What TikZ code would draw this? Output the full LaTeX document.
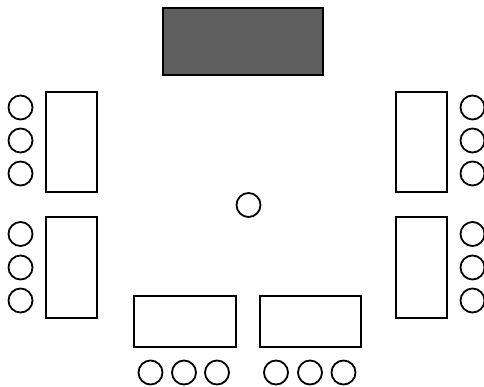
\documentclass[tikz,border=0pt]{standalone}
\usepackage{tikz}
\definecolor{boardgray}{HTML}{5F5F5F}
\tikzset{
  desk/.style={draw=black,line width=1.8pt,fill=white},
  board/.style={draw=black,line width=1.8pt,fill=boardgray},
  seat/.style={draw=black,line width=1.8pt,fill=white}
}
\begin{document}
\begin{tikzpicture}[x=1pt,y=-1pt]
\useasboundingbox (0,0) rectangle (484,387);
\draw[board] (163,8) rectangle (323,75);
\draw[desk] (46,92) rectangle (97,192);
\draw[desk] (46,217) rectangle (97,318);
\draw[desk] (396,92) rectangle (447,192);
\draw[desk] (396,217) rectangle (447,318);
\draw[desk] (134,296) rectangle (236,347);
\draw[desk] (260,296) rectangle (361,347);
\draw[seat] (20.5,107.5) circle (12);
\draw[seat] (20.5,140.5) circle (12);
\draw[seat] (20.5,173.5) circle (12);
\draw[seat] (20.5,234.0) circle (12);
\draw[seat] (20.5,267.5) circle (12);
\draw[seat] (20.5,300.5) circle (12);
\draw[seat] (472.5,107.5) circle (12);
\draw[seat] (472.5,140.5) circle (12);
\draw[seat] (472.5,173.5) circle (12);
\draw[seat] (472.5,234.0) circle (12);
\draw[seat] (472.5,267.5) circle (12);
\draw[seat] (472.5,300.5) circle (12);
\draw[seat] (150.5,372.5) circle (12);
\draw[seat] (184.0,372.5) circle (12);
\draw[seat] (217.0,372.5) circle (12);
\draw[seat] (276.0,372.5) circle (12);
\draw[seat] (310.0,372.5) circle (12);
\draw[seat] (343.5,372.5) circle (12);
\draw[seat] (248.5,205.0) circle (12);
\end{tikzpicture}
\end{document}
